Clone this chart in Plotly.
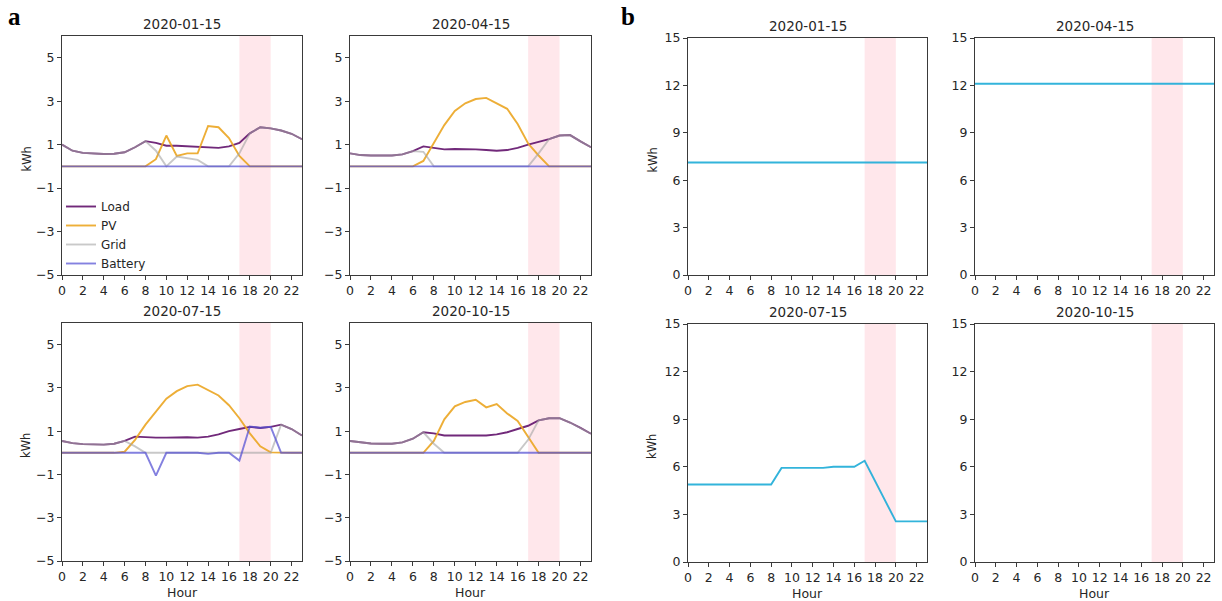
import plotly.graph_objects as go

W, H = 1222, 601

hours = list(range(24))
dates = ["2020-01-15", "2020-04-15", "2020-07-15", "2020-10-15"]
series_names = ["Load", "PV", "Grid", "Battery"]

# ---- panel a: energy flows (kWh) ----
load_jan = [1.0, 0.72, 0.62, 0.58, 0.57, 0.58, 0.65, 0.88, 1.16, 1.08, 0.95, 0.95, 0.93, 0.9, 0.86, 0.85, 0.92, 1.08, 1.52, 1.8, 1.75, 1.65, 1.5, 1.25]
pv_jan = [0, 0, 0, 0, 0, 0, 0, 0, 0, 0.33, 1.42, 0.48, 0.6, 0.6, 1.86, 1.8, 1.3, 0.48, 0, 0, 0, 0, 0, 0]
grid_jan = [1.0, 0.72, 0.62, 0.58, 0.57, 0.58, 0.65, 0.88, 1.16, 0.72, 0, 0.45, 0.36, 0.3, 0, 0, 0, 0.6, 1.52, 1.8, 1.75, 1.65, 1.5, 1.25]
batt_jan = [0] * 24

load_apr = [0.6, 0.52, 0.5, 0.5, 0.5, 0.55, 0.7, 0.92, 0.85, 0.78, 0.8, 0.8, 0.78, 0.75, 0.72, 0.75, 0.85, 1.0, 1.13, 1.25, 1.42, 1.44, 1.15, 0.88]
pv_apr = [0, 0, 0, 0, 0, 0, 0, 0.25, 1.05, 1.9, 2.55, 2.9, 3.1, 3.15, 2.9, 2.65, 1.95, 1.05, 0.5, 0, 0, 0, 0, 0]
grid_apr = [0.6, 0.52, 0.5, 0.5, 0.5, 0.55, 0.7, 0.67, 0, 0, 0, 0, 0, 0, 0, 0, 0, 0, 0.6, 1.25, 1.42, 1.44, 1.15, 0.88]
batt_apr = [0] * 24

load_jul = [0.55, 0.45, 0.4, 0.38, 0.38, 0.42, 0.55, 0.75, 0.72, 0.7, 0.7, 0.72, 0.72, 0.7, 0.75, 0.85, 1.0, 1.1, 1.2, 1.15, 1.2, 1.3, 1.1, 0.8]
pv_jul = [0, 0, 0, 0, 0, 0, 0.05, 0.6, 1.3, 1.9, 2.5, 2.85, 3.08, 3.15, 2.9, 2.65, 2.2, 1.6, 0.9, 0.3, 0.02, 0, 0, 0]
grid_jul = [0.55, 0.45, 0.4, 0.38, 0.38, 0.42, 0.55, 0.3, 0, 0, 0, 0, 0, 0, 0, 0, 0, 0, 0, 0, 0, 1.3, 1.1, 0.8]
batt_jul = [0, 0, 0, 0, 0, 0, 0, 0, 0, -1.05, 0, 0, 0, 0, -0.05, 0, 0, -0.36, 1.22, 1.16, 1.2, 0, 0, 0]

load_oct = [0.55, 0.48, 0.43, 0.42, 0.42, 0.48, 0.65, 0.95, 0.9, 0.8, 0.8, 0.8, 0.8, 0.8, 0.85, 0.95, 1.1, 1.25, 1.5, 1.6, 1.6, 1.4, 1.15, 0.88]
pv_oct = [0, 0, 0, 0, 0, 0, 0, 0, 0.55, 1.55, 2.15, 2.35, 2.45, 2.1, 2.25, 1.82, 1.47, 0.72, 0, 0, 0, 0, 0, 0]
grid_oct = [0.55, 0.48, 0.43, 0.42, 0.42, 0.48, 0.65, 0.95, 0.42, 0, 0, 0, 0, 0, 0, 0, 0, 0.6, 1.5, 1.6, 1.6, 1.4, 1.15, 0.88]
batt_oct = [0] * 24

# ---- panel b: battery state of charge (kWh) ----
soc_jan = [7.12] * 24
soc_apr = [12.1] * 24
soc_jul = [4.88, 4.88, 4.88, 4.88, 4.88, 4.88, 4.88, 4.88, 4.88, 5.93, 5.93, 5.93, 5.93, 5.93, 6.0, 6.0, 6.0, 6.38, 5.1, 3.82, 2.56, 2.56, 2.56, 2.56]
soc_oct = []

peak_start, peak_end = 17, 20
a_yticks = [-5, -3, -1, 1, 3, 5]
b_yticks = [0, 3, 6, 9, 12, 15]
x_ticks = list(range(0, 23, 2))

colors = {"Load": "rgb(98,18,108)", "PV": "rgb(236,166,34)", "Grid": "rgb(165,165,165)", "Battery": "rgb(84,80,212)"}
opac = {"Load": 0.9, "PV": 0.9, "Grid": 0.6, "Battery": 0.72}
soc_color = "rgb(40,176,218)"

flows = [
    (load_jan, pv_jan, grid_jan, batt_jan),
    (load_apr, pv_apr, grid_apr, batt_apr),
    (load_jul, pv_jul, grid_jul, batt_jul),
    (load_oct, pv_oct, grid_oct, batt_oct),
]
socs = [soc_jan, soc_apr, soc_jul, soc_oct]

# panel geometry in pixels (left, right, top, bottom)
boxes_a = [(62, 302, 36, 275), (350, 591, 36, 275), (62, 302, 323, 561), (350, 591, 323, 561)]
boxes_b = [(688, 927, 38, 275), (975, 1214, 38, 275), (688, 927, 324, 562), (975, 1214, 324, 562)]

FONT = "DejaVu Sans"
TXT = "#262626"
AX = "#3a3a3a"

fig = go.Figure()
layout = dict(width=W, height=H, margin=dict(l=0, r=0, t=0, b=0, pad=0, autoexpand=False),
              plot_bgcolor="white", paper_bgcolor="white",
              font=dict(family=FONT, size=12.5, color=TXT),
              showlegend=True)
shapes = []
annotations = []

def px2x(p):
    return p / W

def px2y(p):
    return 1 - p / H

def sfx(idx):
    return "" if idx == 1 else str(idx)

def add_axes(idx, box, yr, yt):
    l, r, t, b = box
    s = sfx(idx)
    xa = dict(domain=[px2x(l), px2x(r)], range=[0, 23], tickvals=x_ticks,
              showgrid=False, zeroline=False, showline=True, mirror=True, automargin=False,
              linecolor=AX, linewidth=1, ticks="outside", ticklen=4, tickcolor=AX,
              tickfont=dict(family=FONT, size=12.5, color=TXT), anchor=f"y{s}", fixedrange=True)
    ya = dict(domain=[px2y(b), px2y(t)], range=yr, tickvals=yt,
              ticktext=[("\u2212" + str(-v)) if v < 0 else str(v) for v in yt],
              showgrid=False, zeroline=False, showline=True, mirror=True, automargin=False,
              linecolor=AX, linewidth=1, ticks="outside", ticklen=4, tickcolor=AX,
              tickfont=dict(family=FONT, size=12.5, color=TXT), anchor=f"x{s}", fixedrange=True)
    layout[f"xaxis{s}"] = xa
    layout[f"yaxis{s}"] = ya
    shapes.append(dict(type="rect", xref=f"x{s}", yref=f"y{s} domain",
                       x0=peak_start, x1=peak_end, y0=0, y1=1,
                       fillcolor="rgba(255,192,203,0.38)", line=dict(width=0), layer="below"))

for i in range(4):
    idx = i + 1
    add_axes(idx, boxes_a[i], [-5, 6], a_yticks)
    for name, vals in zip(series_names, flows[i]):
        fig.add_trace(go.Scatter(x=hours, y=vals, mode="lines", name=name,
                                 line=dict(color=colors[name], width=1.9), opacity=opac[name],
                                 xaxis=f"x{sfx(idx)}", yaxis=f"y{sfx(idx)}",
                                 showlegend=(i == 0), legendrank=series_names.index(name) + 1))

for i in range(4):
    idx = i + 5
    add_axes(idx, boxes_b[i], [0, 15], b_yticks)
    if len(socs[i]) > 0:
        fig.add_trace(go.Scatter(x=hours[:len(socs[i])], y=socs[i], mode="lines", name="SOC",
                                 line=dict(color=soc_color, width=1.9), opacity=0.95,
                                 xaxis=f"x{sfx(idx)}", yaxis=f"y{sfx(idx)}", showlegend=False))

def ann(text, x, y, size=13.5, angle=0, family=FONT, bold=False):
    annotations.append(dict(text=f"<b>{text}</b>" if bold else text, x=px2x(x), y=px2y(y),
                            xref="paper", yref="paper", showarrow=False,
                            xanchor="center", yanchor="middle", textangle=angle,
                            font=dict(family=family, size=size, color=TXT if not bold else "black")))

for i, d in enumerate(dates):
    for boxes in (boxes_a, boxes_b):
        l, r, t, b = boxes[i]
        ann(d, (l + r) / 2, t - 12, size=13.5)
        if i >= 2:
            ann("Hour", (l + r) / 2, b + 31, size=12.5)
        if i % 2 == 0:
            ann("kWh", l - 36, (t + b) / 2 + 4, size=11.5, angle=-90)

ann("a", 14, 17, size=25, family="Liberation Serif", bold=True)
ann("b", 628, 17, size=25, family="Liberation Serif", bold=True)

layout["shapes"] = shapes
layout["annotations"] = annotations
layout["legend"] = dict(x=px2x(61), y=px2y(192), xanchor="left", yanchor="top",
                        bgcolor="rgba(255,255,255,0)", borderwidth=0,
                        font=dict(family=FONT, size=12, color=TXT),
                        itemwidth=30, tracegroupgap=0)
fig.update_layout(**layout)

fig.write_html("out.html")
